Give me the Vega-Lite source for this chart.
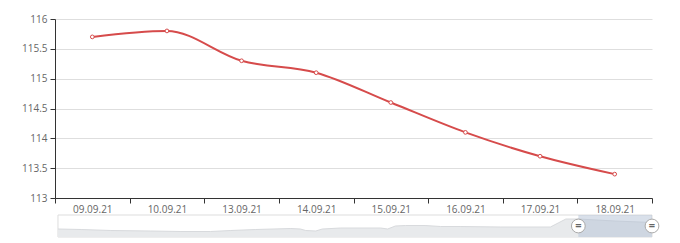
{
  "$schema": "https://vega.github.io/schema/vega-lite/v6.json",
  "padding": {"left": 21, "top": 14, "right": 5, "bottom": 5},
  "background": "white",
  "config": {
    "view": {"stroke": null},
    "font": "Open Sans",
    "axis": {"labelFont": "Open Sans", "labelColor": "#666666", "labelFontSize": 10, "domainColor": "#333333", "tickColor": "#333333", "tickSize": 5, "title": null}
  },
  "bounds": "flush",
  "spacing": 17,
  "vconcat": [
    {
      "width": 597,
      "height": 179,
      "data": {"values": [
        {"date": "09.09.21", "value": 115.7},
        {"date": "10.09.21", "value": 115.8},
        {"date": "13.09.21", "value": 115.3},
        {"date": "14.09.21", "value": 115.1},
        {"date": "15.09.21", "value": 114.6},
        {"date": "16.09.21", "value": 114.1},
        {"date": "17.09.21", "value": 113.7},
        {"date": "18.09.21", "value": 113.4}
      ]},
      "encoding": {
        "x": {"field": "date", "type": "ordinal", "sort": null, "bandPosition": 0.5,
              "scale": {"type": "band", "paddingInner": 0, "paddingOuter": 0},
              "axis": {"labelAngle": 0, "tickBand": "extent", "labelPadding": 1, "grid": false}},
        "y": {"field": "value", "type": "quantitative",
              "scale": {"domain": [113, 116], "nice": false, "zero": false},
              "axis": {"values": [113, 113.5, 114, 114.5, 115, 115.5, 116], "format": ".1~f", "grid": true, "gridColor": "#dedede", "labelPadding": 3}}
      },
      "layer": [
        {"mark": {"type": "line", "interpolate": "monotone", "color": "#d64b4b", "strokeWidth": 2}},
        {"mark": {"type": "point", "filled": true, "fill": "white", "stroke": "#d64b4b", "strokeWidth": 1, "size": 14, "opacity": 1}}
      ]
    },
    {
      "width": 597,
      "height": 22,
      "layer": [
        {
          "data": {"values": [{"start": 0, "end": 100}]},
          "mark": {"type": "rect", "fill": "white", "stroke": "#dddddd", "strokeWidth": 1},
          "encoding": {
            "x": {"field": "start", "type": "quantitative", "scale": {"domain": [-0.5, 100], "nice": false, "zero": false}, "axis": null},
            "x2": {"field": "end"}
          }
        },
        {
          "data": {"values": [
            {"t": 0, "h": 8}, {"t": 3.9, "h": 7.5}, {"t": 8.9, "h": 6.5}, {"t": 15.6, "h": 6},
            {"t": 20.7, "h": 5.5}, {"t": 25.7, "h": 5.5}, {"t": 29.1, "h": 6.5}, {"t": 33.3, "h": 7.5},
            {"t": 39.2, "h": 8.5}, {"t": 40.8, "h": 8}, {"t": 41.7, "h": 6.5}, {"t": 43.4, "h": 6},
            {"t": 44.5, "h": 8}, {"t": 47.6, "h": 9}, {"t": 54.3, "h": 9}, {"t": 55.5, "h": 8},
            {"t": 56.8, "h": 11}, {"t": 58.5, "h": 11.5}, {"t": 61.8, "h": 11.5}, {"t": 64.4, "h": 10.5},
            {"t": 67.7, "h": 10.5}, {"t": 74.5, "h": 10}, {"t": 82.9, "h": 10}, {"t": 84.2, "h": 14},
            {"t": 85.5, "h": 18}, {"t": 87.6, "h": 18}, {"t": 93.8, "h": 16}, {"t": 100, "h": 14.5}
          ]},
          "mark": {"type": "area", "fill": "#e8eaec", "opacity": 1, "line": {"color": "#d8dadd", "strokeWidth": 1}},
          "encoding": {
            "x": {"field": "t", "type": "quantitative", "scale": {"domain": [-0.5, 100], "nice": false, "zero": false}, "axis": null},
            "y": {"field": "h", "type": "quantitative", "scale": {"domain": [0, 22], "nice": false}, "axis": null}
          }
        },
        {
          "data": {"values": [{"start": 87.6, "end": 100}]},
          "mark": {"type": "rect", "fill": "#b3c1d6", "opacity": 0.5},
          "encoding": {
            "x": {"field": "start", "type": "quantitative", "scale": {"domain": [-0.5, 100], "nice": false, "zero": false}, "axis": null},
            "x2": {"field": "end"}
          }
        },
        {
          "data": {"values": [{"t": 87.6, "h": 11, "s": "="}, {"t": 100, "h": 11, "s": "="}]},
          "encoding": {
            "x": {"field": "t", "type": "quantitative", "scale": {"domain": [-0.5, 100], "nice": false, "zero": false}, "axis": null},
            "y": {"field": "h", "type": "quantitative", "scale": {"domain": [0, 22], "nice": false}, "axis": null}
          },
          "layer": [
            {"mark": {"type": "point", "shape": "circle", "filled": true, "fill": "white", "stroke": "#aaaaaa", "strokeWidth": 1, "size": 190, "opacity": 1}},
            {"mark": {"type": "text", "color": "#666666", "fontSize": 11, "fontWeight": "bold", "baseline": "middle", "align": "center", "dy": 0}, "encoding": {"text": {"field": "s"}}}
          ]
        }
      ]
    }
  ]
}
